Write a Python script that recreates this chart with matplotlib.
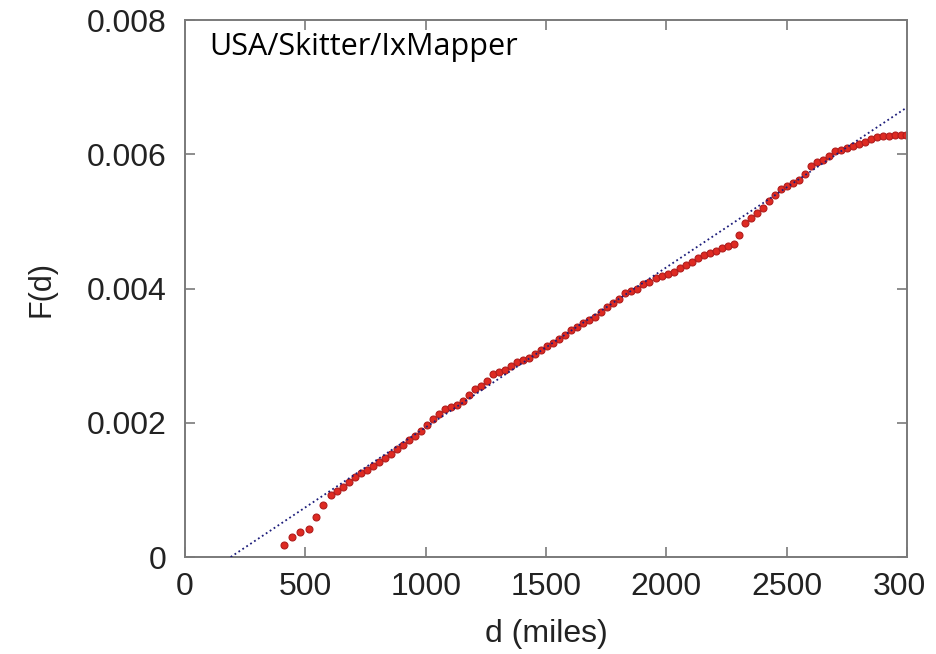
import matplotlib
matplotlib.use("Agg")
import matplotlib.pyplot as plt
import matplotlib.transforms as mtransforms

# distancia (millas) y F(d)
dist = [410, 445, 480, 515, 545, 575, 605, 630, 655, 680, 705, 730, 755, 780,
        805, 830, 855, 880, 905, 930, 955, 980, 1005, 1030, 1055, 1080, 1105,
        1130, 1155, 1180, 1205, 1230, 1255, 1280, 1305, 1330, 1355, 1380, 1405,
        1430, 1455, 1480, 1505, 1530, 1555, 1580, 1605, 1630, 1655, 1680, 1705,
        1730, 1755, 1780, 1805, 1830, 1855, 1880, 1905, 1930, 1955, 1980, 2005,
        2030, 2055, 2080, 2105, 2130, 2155, 2180, 2205, 2230, 2255, 2280, 2300,
        2325, 2350, 2375, 2400, 2425, 2450, 2475, 2500, 2525, 2550, 2575, 2600,
        2625, 2650, 2675, 2700, 2725, 2750, 2775, 2800, 2825, 2850, 2875, 2900,
        2925, 2950, 2975, 2995]
F = [0.00018, 0.00030, 0.00037, 0.00042, 0.00059, 0.00077, 0.00092, 0.00098,
     0.00105, 0.00112, 0.00119, 0.00125, 0.00130, 0.00136, 0.00141, 0.00148,
     0.00154, 0.00161, 0.00167, 0.00174, 0.00181, 0.00188, 0.00196, 0.00205,
     0.00213, 0.00220, 0.00224, 0.00227, 0.00233, 0.00242, 0.00250, 0.00255,
     0.00262, 0.00272, 0.00276, 0.00278, 0.00285, 0.00290, 0.00294, 0.00297,
     0.00303, 0.00309, 0.00314, 0.00319, 0.00325, 0.00331, 0.00338, 0.00343,
     0.00348, 0.00353, 0.00358, 0.00365, 0.00372, 0.00378, 0.00384, 0.00393,
     0.00397, 0.00400, 0.00406, 0.00410, 0.00415, 0.00419, 0.00422, 0.00425,
     0.00430, 0.00435, 0.00440, 0.00445, 0.00450, 0.00453, 0.00456, 0.00460,
     0.00463, 0.00467, 0.00480, 0.00498, 0.00505, 0.00512, 0.00520, 0.00530,
     0.00540, 0.00548, 0.00553, 0.00557, 0.00562, 0.00570, 0.00583, 0.00588,
     0.00592, 0.00598, 0.00605, 0.00606, 0.00610, 0.00613, 0.00615, 0.00618,
     0.00622, 0.00626, 0.00627, 0.00627, 0.00628, 0.00628, 0.00628]

# recta de ajuste: F = pendiente * (d - d0)
fit_d0 = 190
fit_pendiente = 2.384e-6
fit_d = [fit_d0, 3000]

xticks = [0, 500, 1000, 1500, 2000, 2500, 3000]
xtick_labels = ["0", "500", "1000", "1500", "2000", "2500", "300"]
yticks = [0, 0.002, 0.004, 0.006, 0.008]
ytick_labels = ["0", "0.002", "0.004", "0.006", "0.008"]

plt.rcParams['font.family'] = ['Liberation Sans', 'DejaVu Sans']

fig = plt.figure(figsize=(9.37, 6.54), dpi=100)
ax = fig.add_axes([0.1974, 0.1483, 0.7706, 0.8211])

# recta de ajuste punteada
ax.plot(fit_d, [fit_pendiente * (d - fit_d0) for d in fit_d],
        color='#1c1c7a', linestyle=(0, (1, 1.6)), linewidth=1.3, zorder=3)
# puntos
ax.plot(dist, F, linestyle='none', marker='o', markersize=5,
        markerfacecolor='#de2a22', markeredgecolor='#b01c1c',
        markeredgewidth=0.8, zorder=2)

ax.set_xlim(0, 3000)
ax.set_ylim(0, 0.008)
ax.set_xticks(xticks)
ax.set_xticklabels(xtick_labels)
ax.set_yticks(yticks)
ax.set_yticklabels(ytick_labels)

for s in ax.spines.values():
    s.set_color('#7a7a7a')
    s.set_linewidth(1.4)
ax.tick_params(direction='in', length=7, width=1.2, color='#7a7a7a',
               top=True, right=True, labelsize=23, labelcolor='#222222')
ax.tick_params(axis='x', pad=11)
ax.tick_params(axis='y', pad=13)

# la ultima etiqueta va recortada en el original
off = mtransforms.ScaledTranslation(-0.08, 0, fig.dpi_scale_trans)
lab = ax.get_xticklabels()[-1]
lab.set_transform(lab.get_transform() + off)

ax.set_xlabel('d (miles)', fontsize=23, color='#222222', labelpad=12)
ax.set_ylabel('F(d)', fontsize=22, color='#222222', labelpad=22)

ax.text(0.033, 0.978, 'USA/Skitter/IxMapper', transform=ax.transAxes,
        fontsize=22, family='Open Sans', va='top', ha='left', color='black')

fig.savefig('out.png', dpi=100)
